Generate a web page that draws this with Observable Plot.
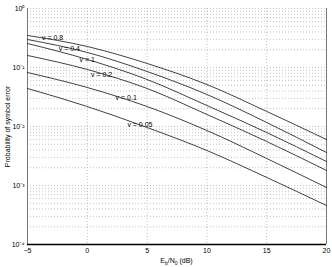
<!DOCTYPE html>
<html>
<head>
<meta charset="utf-8">
<script src="https://cdn.jsdelivr.net/npm/d3@7"></script>
<script src="https://cdn.jsdelivr.net/npm/@observablehq/plot@0.6"></script>
<style>
  html, body { margin: 0; padding: 0; background: #fff; }
  #chart { width: 332px; height: 267px; }
</style>
</head>
<body>
<div id="chart"></div>
<script>
// Eb/N0 (dB)
const snr = [-5, 0, 5, 10, 15, 20];
// Series names (v parameter)
const seriesNames = ["0.8", "0.4", "1", "0.2", "0.1", "0.05"];
// Probability of symbol error for each v
const pe_v08  = [0.349, 0.227, 0.117, 0.0515, 0.0180, 0.00602];
const pe_v04  = [0.298, 0.180, 0.0855, 0.0349, 0.0117, 0.00362];
const pe_v1   = [0.255, 0.137, 0.0626, 0.0227, 0.00791, 0.00255];
const pe_v02  = [0.160, 0.0925, 0.0441, 0.0160, 0.00557, 0.00180];
const pe_v01  = [0.0822, 0.0458, 0.0218, 0.00855, 0.00287, 0.000925];
const pe_v005 = [0.0441, 0.0218, 0.00962, 0.00392, 0.00137, 0.000458];
const seriesValues = [pe_v08, pe_v04, pe_v1, pe_v02, pe_v01, pe_v005];

// Curve annotation anchors (Eb/N0 dB, probability)
const labelSnr = [-2.9, -1.5, 0.0, 1.2, 3.25, 4.4];
const labelPe  = [0.322, 0.210, 0.137, 0.076, 0.031, 0.0108];

// Axis ticks
const xTicks = [-5, 0, 5, 10, 15, 20];
const yTicks = [1e-4, 1e-3, 1e-2, 1e-1, 1];
const yTickLabels = ["10⁻⁴", "10⁻³", "10⁻²", "10⁻¹", "10⁰"];

const rows = [];
seriesValues.forEach((vals, i) => {
  vals.forEach((p, j) => rows.push({v: seriesNames[i], snr: snr[j], pe: p}));
});
const labels = seriesNames.map((n, i) => ({text: "v = " + n, snr: labelSnr[i], pe: labelPe[i]}));

const minorY = [];
for (let k = -4; k < 0; k++) for (let m = 1; m <= 9; m++) minorY.push(m * Math.pow(10, k));
minorY.push(1);

const plot = Plot.plot({
  width: 332,
  height: 267,
  marginLeft: 27,
  marginRight: 6,
  marginTop: 8,
  marginBottom: 23,
  style: {fontFamily: "'Liberation Sans', Arial, sans-serif", fontSize: "7px", background: "#fff", color: "#000"},
  x: {domain: [-5, 20]},
  y: {type: "log", domain: [1e-4, 1]},
  marks: [
    Plot.ruleY(minorY, {stroke: "#999", strokeWidth: 0.6, strokeDasharray: "1,2"}),
    Plot.ruleX(xTicks, {stroke: "#999", strokeWidth: 0.6, strokeDasharray: "1,2"}),
    Plot.ruleX([-5, 20], {stroke: "#777", strokeWidth: 1}),
    Plot.ruleY([1e-4], {stroke: "#000", strokeWidth: 1.5}),
    Plot.axisX({ticks: xTicks, tickSize: 0, tickPadding: 4, label: null, tickFormat: d => d < 0 ? "−" + Math.abs(d) : String(d)}),
    Plot.axisY({ticks: yTicks, tickSize: 0, tickPadding: 3, tickFormat: d => yTickLabels[yTicks.indexOf(d)], label: "Probability of symbol error", labelAnchor: "center", labelOffset: 22, labelArrow: "none"}),
    Plot.line(rows, {x: "snr", y: "pe", z: "v", stroke: "#111", strokeWidth: 0.8, curve: "monotone-x"}),
    Plot.text(labels, {x: "snr", y: "pe", text: "text", fill: "#000", fontSize: 7})
  ]
});

document.getElementById("chart").appendChild(plot);

// x-axis label with subscripts
const svg = d3.select(plot);
const xs = plot.scale("x");
const t = svg.append("text")
  .attr("x", xs.apply(7.5))
  .attr("y", 263)
  .attr("text-anchor", "middle")
  .attr("font-size", 7)
  .attr("fill", "#000");
t.append("tspan").text("E");
t.append("tspan").attr("font-size", 5).attr("dy", 1.5).text("b");
t.append("tspan").attr("dy", -1.5).text("/N");
t.append("tspan").attr("font-size", 5).attr("dy", 1.5).text("0");
t.append("tspan").attr("dy", -1.5).text(" (dB)");
</script>
</body>
</html>
